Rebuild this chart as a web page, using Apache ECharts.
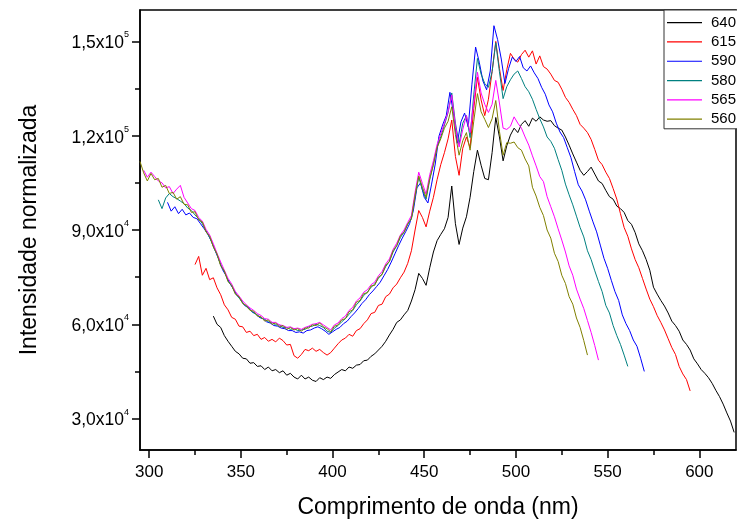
<!DOCTYPE html>
<html><head><meta charset="utf-8">
<script src="https://cdn.jsdelivr.net/npm/echarts@6/dist/echarts.min.js"></script>
<style>html,body{margin:0;padding:0;background:#fff}#c{width:737px;height:524px}</style>
</head><body><div id="c"></div>
<script>
// Series names (legend) and first wavelength (nm) of each spectrum; samples every 2 nm
const seriesNames = ['640', '615', '590', '580', '565', '560'];
const startWl = [335, 325, 310, 305, 297, 295];
const wlStep = 2;

// Normalized intensity, in units of 10^3
const i640 = [62.6,60.0,59.0,56.4,54.6,53.0,51.4,50.6,49.2,49.0,
47.6,47.8,46.6,46.8,45.6,46.4,45.2,45.6,44.6,45.2,
43.8,44.4,43.2,42.6,43.8,42.6,43.2,42.2,41.8,43.0,
42.4,43.2,42.8,44.0,44.8,45.6,45.2,46.4,46.0,47.0,
47.2,48.4,48.6,49.8,50.6,51.8,53.0,54.6,56.6,58.4,
60.6,61.4,63.0,64.4,67.4,71.0,76.2,74.6,72.4,78.0,
83.0,86.6,88.6,90.4,94.0,104.0,92.0,85.4,90.6,94.2,
100.4,108.6,115.4,110.6,106.4,106.0,114.6,125.8,119.6,112.0,
116.8,120.2,122.4,121.0,123.6,124.8,123.0,125.6,124.6,126.0,
125.0,124.6,124.8,123.2,122.4,121.8,119.6,117.0,114.2,111.6,
109.0,107.4,108.6,110.0,107.8,105.6,104.8,102.6,100.6,99.8,
97.6,96.8,95.6,93.0,91.8,89.2,85.6,83.4,80.6,77.2,
71.8,69.6,67.6,65.8,63.6,61.0,59.6,57.8,55.0,53.6,
51.8,49.0,47.4,45.6,44.4,43.0,41.2,39.0,37.0,34.6,
31.8,29.2,25.6];

const i615 = [79.0,81.6,75.6,77.8,74.2,74.8,71.6,69.4,66.2,64.6,
62.2,61.6,59.4,59.2,57.4,57.8,56.4,56.8,55.2,55.8,
54.6,55.2,54.4,55.6,54.8,53.4,53.6,50.0,49.2,50.4,
52.0,51.6,52.4,51.4,52.0,51.0,50.2,51.0,52.4,53.8,
55.0,55.6,56.8,56.2,58.0,58.6,60.2,61.4,63.4,63.8,
66.0,66.4,68.8,69.6,71.6,72.8,74.8,76.6,79.4,83.4,
90.0,96.2,94.0,91.0,96.0,100.4,106.0,110.8,114.6,119.0,
125.0,113.4,107.4,116.0,119.6,116.2,128.6,138.6,131.4,126.4,
131.6,140.4,150.0,141.4,134.4,141.0,146.2,144.4,143.4,145.8,
147.2,145.0,147.0,142.8,145.4,142.0,141.2,139.6,137.6,137.0,
134.8,132.2,130.6,128.4,126.4,123.6,122.4,121.0,118.8,115.6,
112.2,110.8,108.4,106.4,103.2,99.8,95.2,90.8,88.0,84.0,
80.6,78.0,74.6,71.2,68.0,65.6,62.8,60.6,58.2,55.4,
52.6,50.4,46.6,44.2,42.4,38.8];

const i590 = [98.8,96.0,97.4,95.2,96.6,94.8,95.4,94.0,93.6,92.0,
90.4,88.6,86.4,83.4,80.6,77.4,75.4,73.0,71.2,69.2,
67.8,66.0,65.4,64.0,63.4,62.2,61.8,60.8,60.4,59.6,
59.4,58.8,58.6,58.0,58.0,57.4,57.6,57.2,58.0,58.2,
58.8,59.2,58.6,57.8,56.8,57.6,58.4,59.0,60.2,61.0,
62.4,63.6,65.0,66.6,67.8,69.4,70.6,72.0,73.4,75.4,
77.4,79.8,82.4,85.0,87.4,89.6,92.0,96.0,103.4,105.0,
100.4,98.6,104.6,111.0,119.8,123.4,126.4,133.8,127.0,117.6,
124.4,127.2,122.8,136.4,148.2,143.4,137.4,134.6,140.6,155.0,
150.6,144.4,136.6,141.4,145.0,143.6,145.2,141.6,140.6,142.2,
140.0,138.2,135.4,133.2,129.8,127.6,124.0,121.2,119.4,116.2,
113.0,108.6,104.4,102.4,99.6,96.0,92.6,89.4,85.2,81.0,
77.8,74.0,70.4,67.6,63.0,60.2,58.0,55.0,53.0,49.2,
45.0];

const i580 = [99.6,96.8,100.2,101.6,100.6,100.0,99.2,98.4,97.0,96.2,
94.8,93.6,92.0,89.8,87.6,84.8,82.2,78.8,76.8,73.8,
72.2,69.8,68.4,66.8,65.6,64.6,63.6,63.0,62.0,61.6,
60.8,60.6,59.8,59.8,59.0,59.0,58.4,58.6,58.0,58.2,
58.4,59.2,59.4,60.0,59.6,59.0,57.8,57.4,58.8,59.6,
60.8,61.8,63.2,64.4,66.2,67.4,69.2,70.2,71.8,72.8,
74.6,76.0,78.4,80.0,83.0,85.0,87.6,89.4,91.8,93.6,
100.6,106.8,102.8,99.8,106.0,111.2,116.4,119.6,123.4,127.4,
133.6,124.0,117.4,124.0,126.4,119.4,133.0,144.6,139.6,136.6,
135.4,140.4,149.6,140.4,131.8,135.6,137.8,139.6,140.6,138.2,
135.6,134.0,131.6,128.4,125.4,122.8,119.6,118.2,116.0,112.4,
109.0,104.6,101.2,98.0,94.4,90.8,87.8,83.4,80.6,77.0,
73.6,70.4,66.0,63.6,59.6,56.4,53.6,50.2,46.6];

const i565 = [109.0,106.8,108.4,107.0,105.6,105.0,103.4,103.8,101.6,103.0,
104.2,100.4,98.6,96.8,96.2,94.0,92.8,90.2,88.4,85.6,
82.6,79.8,77.2,74.6,72.8,70.4,69.0,67.4,66.2,65.2,
64.4,63.4,62.8,61.8,61.6,60.6,60.6,59.8,59.6,59.0,
59.2,58.6,58.8,58.4,59.0,59.4,60.0,60.2,60.6,59.8,
59.0,58.2,59.8,60.4,61.8,62.6,64.4,65.4,67.4,68.4,
70.2,71.0,72.6,73.4,75.4,76.8,79.2,80.8,83.8,85.8,
88.4,90.0,92.4,94.6,102.0,108.4,104.8,101.4,107.6,112.0,
117.2,120.6,124.0,127.6,133.0,123.0,116.4,122.0,126.4,121.0,
130.6,140.2,133.6,130.0,127.4,130.0,137.6,130.4,122.4,122.0,
123.0,126.0,124.0,122.4,119.6,117.0,113.6,110.4,107.0,105.4,
100.6,97.4,94.2,90.4,86.8,83.0,78.6,75.6,71.2,68.0,
65.0,61.2,57.4,53.2,48.6];

const i560 = [111.8,108.2,105.6,108.0,106.0,106.4,103.6,104.2,101.6,102.0,
99.8,100.6,98.2,98.0,95.6,95.8,93.2,92.6,89.4,88.0,
84.6,82.4,78.6,77.0,73.6,72.4,69.6,68.8,66.6,66.0,
64.4,64.2,62.6,62.4,61.0,61.4,60.0,60.4,59.2,59.6,
58.4,59.0,58.2,58.6,57.8,58.8,58.8,59.8,59.6,60.4,
59.2,58.6,57.6,59.4,59.8,61.4,61.8,64.0,64.6,67.0,
67.6,69.8,70.0,72.2,72.4,75.0,75.8,78.8,80.0,83.4,
85.0,88.2,89.2,92.0,93.6,101.0,107.2,103.6,100.4,106.4,
110.6,116.2,119.0,122.4,124.6,129.2,120.4,113.8,118.4,121.0,
115.4,124.6,133.4,127.6,125.2,122.6,125.4,131.2,121.4,113.8,
117.8,117.6,118.0,116.2,115.4,112.6,110.4,103.6,100.8,97.2,
94.6,90.0,87.4,82.6,80.0,75.6,73.0,68.8,66.4,62.0,
59.0,54.8,50.2];

const xTicks = [300, 350, 400, 450, 500, 550, 600];
const xMinorTicks = [325, 375, 425, 475, 525, 575];
const yTicks = [30000, 60000, 90000, 120000, 150000];
const yMinorTicks = [45000, 75000, 105000, 135000];

const seriesValues = [i640, i615, i590, i580, i565, i560];
const seriesColors = ['#000000', '#ff0000', '#0000ff', '#008080', '#ff00ff', '#808000'];

const FONT = '"Liberation Sans", Arial, sans-serif';

function toPairs(start, vals) {
  return vals.map((v, i) => [start + i * wlStep, v * 1000]);
}
function sciLabel(v) {
  const e = Math.floor(Math.log10(v) + 1e-9);
  const m = (v / Math.pow(10, e)).toFixed(1).replace('.', ',');
  return '{a|' + m + 'x10}{b|' + e + '}';
}

const chart = echarts.init(document.getElementById('c'), null, { renderer: 'canvas' });

const xMin = 295, xMax = 620, yMin = 20000, yMax = 160000;

chart.setOption({
  animation: false,
  backgroundColor: '#fff',
  grid: { left: 140, right: 1, top: 10, bottom: 72, show: true, borderColor: '#000', borderWidth: 1.5, backgroundColor: 'transparent' },
  legend: {
    data: seriesNames,
    orient: 'vertical',
    left: 664, top: 10,
    icon: 'rect',
    itemWidth: 35, itemHeight: 1.2, itemGap: 0,
    padding: [3, 20, 0, 3],
    backgroundColor: '#fff', borderColor: '#333', borderWidth: 1,
    textStyle: { fontSize: 15, lineHeight: 19.3, color: '#000', fontFamily: FONT, padding: [0, 0, 0, 4] }
  },
  xAxis: [{
    type: 'value', min: xMin, max: xMax, position: 'bottom',
    name: 'Comprimento de onda (nm)', nameLocation: 'middle', nameGap: 46,
    nameTextStyle: { fontSize: 23, color: '#000', fontFamily: FONT },
    axisLine: { show: true, lineStyle: { color: '#000', width: 1.5 } },
    axisTick: { show: true, inside: false, length: 8, customValues: xTicks, lineStyle: { color: '#000', width: 1.5 } },
    axisLabel: { show: true, margin: 14, customValues: xTicks, fontSize: 17, color: '#000', fontFamily: FONT },
    splitLine: { show: false }
  }, {
    type: 'value', min: xMin, max: xMax, position: 'bottom',
    axisLine: { show: false },
    axisTick: { show: true, inside: false, length: 5, customValues: xMinorTicks, lineStyle: { color: '#000', width: 1.5 } },
    axisLabel: { show: false },
    splitLine: { show: false }
  }],
  yAxis: [{
    type: 'value', min: yMin, max: yMax, position: 'left',
    name: 'Intensidade normalizada', nameLocation: 'middle', nameGap: 99,
    nameTextStyle: { fontSize: 23, color: '#000', fontFamily: FONT },
    axisLine: { show: true, lineStyle: { color: '#000', width: 1.5 } },
    axisTick: { show: true, inside: false, length: 8, customValues: yTicks, lineStyle: { color: '#000', width: 1.5 } },
    axisLabel: {
      show: true, margin: 11, customValues: yTicks, formatter: sciLabel,
      rich: {
        a: { fontSize: 17.5, color: '#000', fontFamily: FONT, lineHeight: 22, verticalAlign: 'bottom' },
        b: { fontSize: 9, color: '#000', fontFamily: FONT, lineHeight: 11, verticalAlign: 'top' }
      }
    },
    splitLine: { show: false }
  }, {
    type: 'value', min: yMin, max: yMax, position: 'left',
    axisLine: { show: false },
    axisTick: { show: true, inside: false, length: 5, customValues: yMinorTicks, lineStyle: { color: '#000', width: 1.5 } },
    axisLabel: { show: false },
    splitLine: { show: false }
  }],
  series: seriesNames.map((name, k) => ({
    name: name,
    type: 'line',
    xAxisIndex: 0, yAxisIndex: 0,
    symbol: 'none',
    data: toPairs(startWl[k], seriesValues[k]),
    lineStyle: { color: seriesColors[k], width: 1 },
    itemStyle: { color: seriesColors[k] },
    clip: true
  }))
});
</script>
</body></html>
